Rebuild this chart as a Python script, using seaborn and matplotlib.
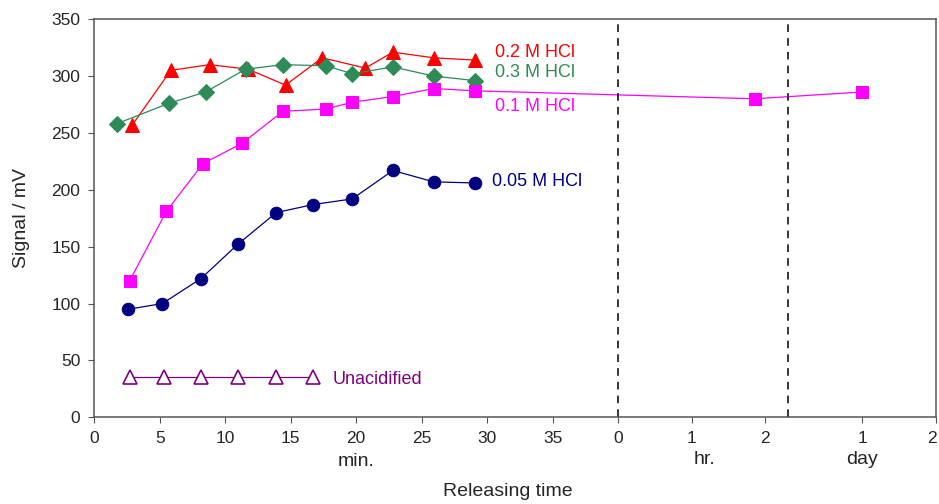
"""Signal vs releasing time for several HCl concentrations (broken time axis)."""

import matplotlib
matplotlib.use("Agg")
import matplotlib.pyplot as plt
import matplotlib.transforms as mtransforms
import seaborn as sns

# ---- data -------------------------------------------------------------
min_02 = [2.9, 5.85, 8.8, 11.75, 14.6, 17.4, 20.7, 22.8, 25.9, 29.1]
sig_02 = [257, 305, 310, 306, 292, 316, 307, 321, 316, 314]

min_03 = [1.7, 5.7, 8.5, 11.55, 14.4, 17.7, 19.7, 22.8, 25.9, 29.05]
sig_03 = [258, 276, 286, 306, 310, 309, 302, 308, 300, 296]

min_01 = [2.7, 5.5, 8.3, 11.3, 14.4, 17.7, 19.7, 22.8, 25.9, 29.05]
sig_01 = [120, 181, 223, 241, 269, 271, 277, 282, 289, 287]
hr_01 = [1.86]
sig_01_hr = [280]
day_01 = [1.0]
sig_01_day = [286]

min_005 = [2.6, 5.2, 8.15, 10.95, 13.9, 16.7, 19.7, 22.8, 25.9, 29.05]
sig_005 = [95, 100, 122, 152, 180, 187, 192, 217, 207, 206]

min_un = [2.7, 5.3, 8.15, 11.0, 13.9, 16.7]
sig_un = [35, 35, 35, 35, 35, 35]

min_ticks = [0, 5, 10, 15, 20, 25, 30, 35]
hr_ticks = [0, 1, 2]
day_ticks = [1, 2]

# ---- broken time axis: minutes, then hours, then days -----------------
HR_START, HR_SCALE = 40.0, 5.6
DAY_START, DAY_SCALE = 53.0, 5.65


def from_hr(h):
    return [HR_START + v * HR_SCALE for v in h]


def from_day(d):
    return [DAY_START + v * DAY_SCALE for v in d]


sns.set_style("ticks")
plt.rcParams["font.family"] = ["Liberation Sans", "DejaVu Sans"]

fig = plt.figure(figsize=(9.39, 5.04), dpi=100)
ax = fig.add_axes([0.1004, 0.172, 0.8969, 0.790])

RED, GREEN, MAGENTA, NAVY, PURPLE = "#ff0000", "#2e8b57", "#ff00ff", "#000080", "#800080"

series = [
    (min_02, sig_02, RED, "^", 9.5),
    (min_03, sig_03, GREEN, "D", 8),
    (min_01 + from_hr(hr_01) + from_day(day_01),
     sig_01 + sig_01_hr + sig_01_day, MAGENTA, "s", 8.5),
    (min_005, sig_005, NAVY, "o", 9),
]
for xs, ys, col, mk, ms in series:
    sns.lineplot(x=xs, y=ys, color=col, marker=mk, markersize=ms,
                 markeredgecolor=col, markerfacecolor=col, linewidth=0.9,
                 ax=ax)

sns.lineplot(x=min_un, y=sig_un, color=PURPLE, marker="^", markersize=9.5,
             markeredgecolor=PURPLE, markerfacecolor="white",
             markeredgewidth=1.2, linewidth=0.9, ax=ax)

# segment separators
for xv in [HR_START, DAY_START]:
    ax.axvline(xv, color="black", linestyle=(0, (5, 4)), linewidth=1.1)

ax.set_xlim(0, from_day([2])[0])
ax.set_ylim(0, 350)
ax.set_yticks(range(0, 351, 50))

xt = min_ticks + from_hr(hr_ticks) + from_day(day_ticks)
xl = [str(v) for v in min_ticks + hr_ticks + day_ticks]
ax.set_xticks(xt)
ax.set_xticklabels(xl)
ax.tick_params(labelsize=12.5, length=4, color="#555555", pad=6)
# last label sits on the figure edge; keep it inside
ax.get_xticklabels()[-1].set_horizontalalignment("right")

for s in ax.spines.values():
    s.set_color("#555555")
    s.set_linewidth(1.1)

# series labels
lab_kw = dict(fontsize=13, va="center", ha="left")
ax.text(30.6, 321, "0.2 M HCl", color=RED, **lab_kw)
ax.text(30.6, 303, "0.3 M HCl", color=GREEN, **lab_kw)
ax.text(30.6, 273, "0.1 M HCl", color=MAGENTA, **lab_kw)
ax.text(30.4, 207, "0.05 M HCl", color=NAVY, **lab_kw)
ax.text(18.2, 33, "Unacidified", color=PURPLE, **lab_kw)

# unit labels under the tick labels
trans = mtransforms.blended_transform_factory(ax.transData, fig.transFigure)
ax.text(20, 1 - 461 / 504, "min.", transform=trans, ha="center", va="center",
        fontsize=14)
ax.text(from_hr([1.18])[0], 1 - 460 / 504, "hr.", transform=trans,
        ha="center", va="center", fontsize=14)
ax.text(from_day([1])[0], 1 - 459 / 504, "day", transform=trans,
        ha="center", va="center", fontsize=14)

fig.text(508 / 939, 1 - 492 / 504, "Releasing time", ha="center",
         va="center", fontsize=14)
fig.text(22 / 939, 1 - 218 / 504, "Signal / mV", ha="center", va="center",
         rotation=90, fontsize=14)

fig.savefig("out.png", dpi=100)
